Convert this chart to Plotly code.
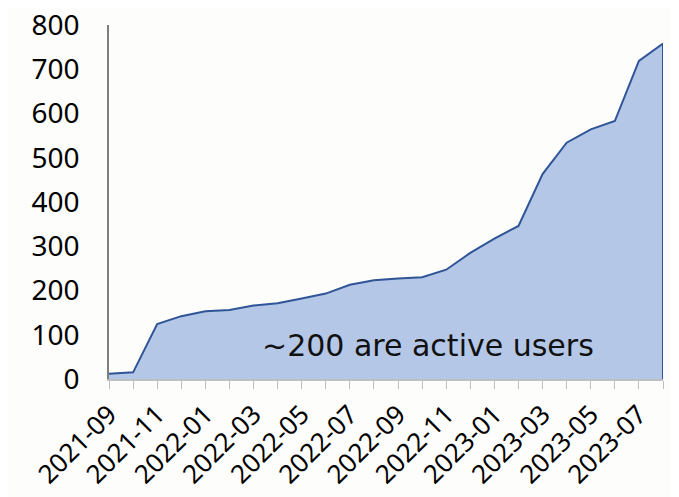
import plotly.graph_objects as go

months = ['2021-09', '2021-10', '2021-11', '2021-12', '2022-01', '2022-02',
          '2022-03', '2022-04', '2022-05', '2022-06', '2022-07', '2022-08',
          '2022-09', '2022-10', '2022-11', '2022-12', '2023-01', '2023-02',
          '2023-03', '2023-04', '2023-05', '2023-06', '2023-07', '2023-08']
users = [12, 15, 124, 142, 153, 156, 166, 171, 182, 193, 213, 223,
         227, 230, 247, 285, 317, 346, 463, 534, 564, 583, 719, 758]
y_ticks = [0, 100, 200, 300, 400, 500, 600, 700, 800]
note = '~200 are active users'

# label every other month, tick marks on all
tick_text = [m if i % 2 == 0 else '' for i, m in enumerate(months)]

fig = go.Figure()

fig.add_trace(go.Scatter(
    x=months,
    y=users,
    mode='lines',
    fill='tozeroy',
    fillcolor='#B4C7E7',
    line=dict(color='#2F5597', width=2),
    hoverinfo='skip'
))

# closing edge at the right end like the original area chart
fig.add_trace(go.Scatter(
    x=[months[-1], months[-1]],
    y=[0, users[-1]],
    mode='lines',
    line=dict(color='#2F5597', width=2),
    hoverinfo='skip'
))

fig.add_annotation(
    x=13.25, y=76, xref='x', yref='y',
    text=note, showarrow=False,
    font=dict(family='DejaVu Sans', size=30, color='#111111')
)

# page body adds ~8px offset, so margins are shifted to compensate
fig.update_layout(
    width=679,
    height=497,
    margin=dict(l=101, r=24, t=17, b=126),
    paper_bgcolor='#FDFDFB',
    plot_bgcolor='#FDFDFB',
    showlegend=False,
    font=dict(family='Noto Sans', color='#000000'),
    xaxis=dict(
        type='category',
        range=[0, len(months) - 1],
        tickmode='array',
        tickvals=months,
        ticktext=tick_text,
        tickangle=-45,
        ticks='outside',
        ticklen=8,
        tickcolor='#BFBFBF',
        showline=True,
        linecolor='#BFBFBF',
        linewidth=1.5,
        showgrid=False,
        zeroline=False,
        automargin=False,
        ticklabeloverflow='allow',
        tickfont=dict(size=26)
    ),
    yaxis=dict(
        range=[0, 800],
        tickvals=y_ticks,
        showline=True,
        linecolor='#7F7F7F',
        linewidth=1.5,
        showgrid=False,
        zeroline=False,
        ticks='',
        ticklabelstandoff=22,
        automargin=False,
        ticklabeloverflow='allow',
        tickfont=dict(size=28)
    )
)

fig.write_html("out.html")
